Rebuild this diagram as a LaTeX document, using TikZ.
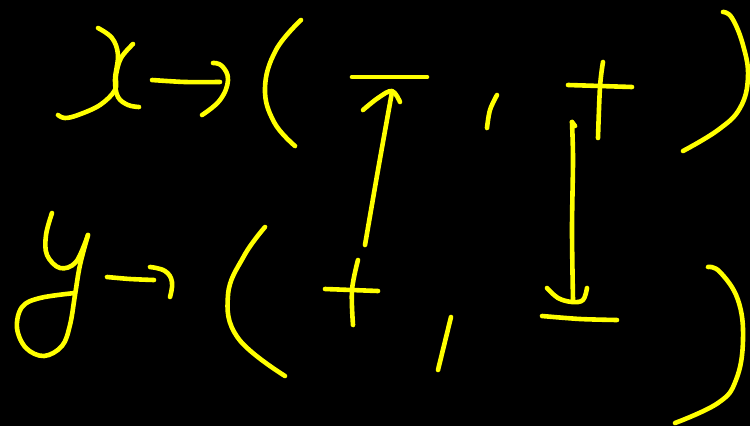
\documentclass[tikz,border=0pt]{standalone}
\begin{document}
\begin{tikzpicture}[x=1pt,y=-1pt,
  ink/.style={draw={rgb,255:red,255;green,255;blue,0},line width=4.6pt,line cap=round,line join=round}]
\fill[black] (0,0) rectangle (750,426);
\useasboundingbox (0,0) rectangle (750,426);
% x
\draw[ink] plot[smooth,tension=0.6] coordinates {(98,28) (112,38) (118,55) (115,80) (118,97) (128,105) (139,107)};
\draw[ink] plot[smooth,tension=0.6] coordinates {(133,44) (121,58) (116,75) (115,90) (100,105) (78,115) (65,118) (58,115)};
% x arrow
\draw[ink] plot[smooth,tension=0.5] coordinates {(152,80) (185,82) (220,82)};
\draw[ink] plot[smooth,tension=0.7] coordinates {(213,63) (222,66) (228,80) (220,100) (202,115)};
% y
\draw[ink] plot[smooth,tension=0.6] coordinates {(52,213) (46,235) (47,255) (60,268) (76,262) (88,235)};
\draw[ink] plot[smooth,tension=0.6] coordinates {(88,235) (80,265) (75,295) (70,325) (62,346) (44,356) (26,348) (17,328) (22,307) (40,298) (75,293)};
% y arrow
\draw[ink] plot[smooth,tension=0.5] coordinates {(107,277) (130,279) (154,280)};
\draw[ink] plot[smooth,tension=0.7] coordinates {(150,267) (165,271) (172,282) (170,297)};
% top parentheses
\draw[ink] plot[smooth,tension=0.7] coordinates {(301,20) (276,50) (265,88) (274,122) (295,146)};
\draw[ink] plot[smooth,tension=0.7] coordinates {(723,12) (732,18) (743,45) (748,77) (740,108) (718,130) (683,151)};
% bottom parentheses
\draw[ink] plot[smooth,tension=0.7] coordinates {(265,227) (244,256) (228,295) (238,338) (285,376)};
\draw[ink] plot[smooth,tension=0.7] coordinates {(708,267) (720,272) (738,300) (743,340) (736,380) (718,403) (675,423)};
% top minus
\draw[ink] (352,77) -- (427,77);
% top comma
\draw[ink] plot[smooth,tension=0.6] coordinates {(497,95) (490,110) (487,128)};
% top plus
\draw[ink] (568,85) -- (632,87);
\draw[ink] plot[smooth,tension=0.6] coordinates {(603,62) (600,87) (598,138)};
% bottom plus
\draw[ink] (325,289) -- (378,291);
\draw[ink] plot[smooth,tension=0.6] coordinates {(358,260) (352,290) (353,325)};
% bottom comma
\draw[ink] (451,317) -- (438,370);
% bottom minus
\draw[ink] plot[smooth,tension=0.5] coordinates {(542,316) (580,319) (617,320)};
% up arrow (from + to -)
\draw[ink] plot[smooth,tension=0.5] coordinates {(365,245) (378,170) (392,92)};
\draw[ink] plot[smooth,tension=0.6] coordinates {(363,110) (378,98) (392,91) (400,102)};
% down arrow (from + to -)
\draw[ink] plot[smooth,tension=0.5] coordinates {(572,122) (573,160) (572,230) (573,300)};
\draw[ink] plot[smooth,tension=0.6] coordinates {(547,288) (558,298) (572,302) (583,300) (587,288)};
\draw[ink] (572,122) -- (575,126);
\end{tikzpicture}
\end{document}
